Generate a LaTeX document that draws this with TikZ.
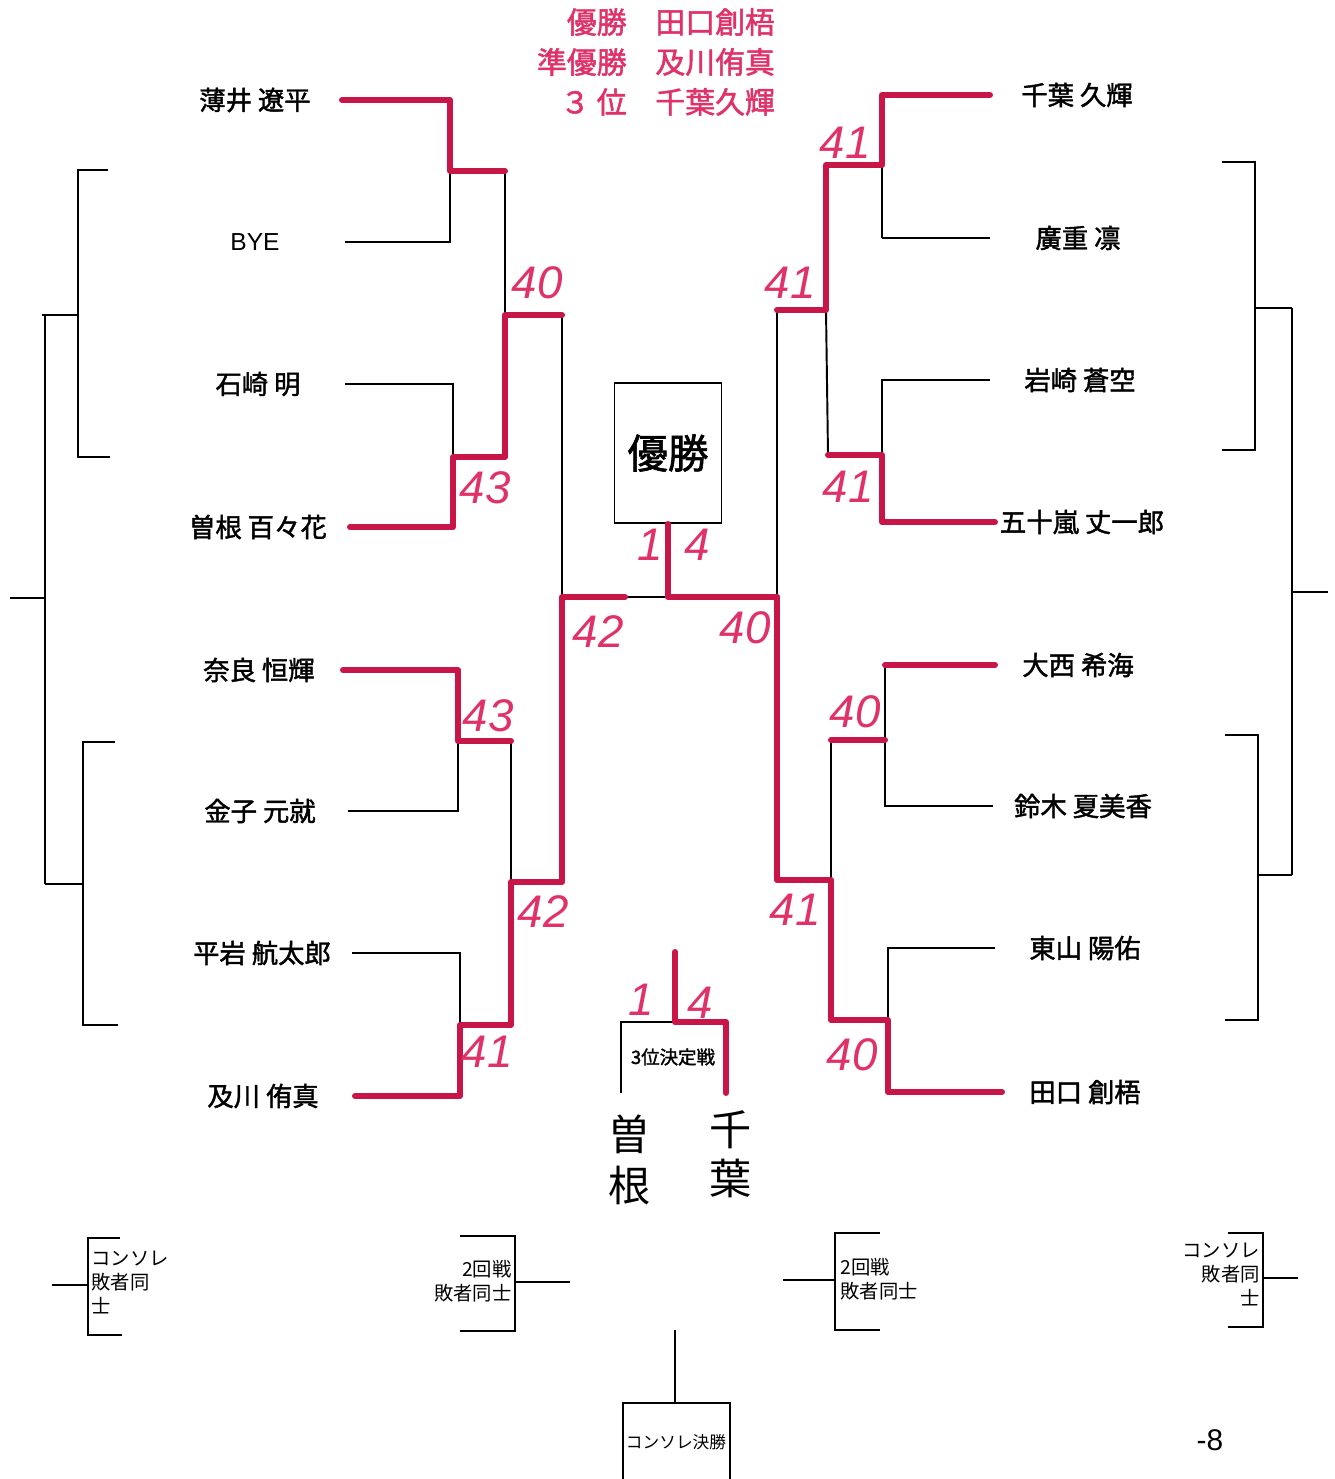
\documentclass[tikz,border=0pt]{standalone}
\usepackage{fontspec}
\newfontfamily\jp{Noto Sans CJK JP}
\newfontfamily\jpb{Noto Sans CJK JP}[FakeBold=1.6]
\newfontfamily\hand{Liberation Sans}
\definecolor{pen}{RGB}{200,22,72}
\definecolor{penink}{RGB}{224,50,104}
\begin{document}
\begin{tikzpicture}[x=0.2mm,y=-0.2mm,
  nm/.style={font=\jpb\fontsize{15}{18}\selectfont, inner sep=0pt},
  win/.style={pen, line width=3.4pt, line cap=round, line join=round},
  lose/.style={black, line width=1.1pt},
  sc/.style={penink, font=\hand\itshape\fontsize{26}{26}\selectfont, inner sep=0pt},
  note/.style={font=\jp\fontsize{11}{13.5}\selectfont, inner sep=0pt},
  ttl/.style={penink, font=\jpb\fontsize{17}{20}\selectfont, inner sep=0pt}]
\fill[white] (0,0) rectangle (1334,1479);
\useasboundingbox (0,0) rectangle (1334,1479);
\node[ttl, anchor=east] (t1a) at (627,22){優勝};
\node[ttl, anchor=west] (t1b) at (655,22){田口創梧};
\node[ttl, anchor=east] (t2a) at (627,62){準優勝};
\node[ttl, anchor=west] (t2b) at (655,62){及川侑真};
\node[ttl, anchor=east] (t3a) at (627,102){３ 位};
\node[ttl, anchor=west] (t3b) at (655,102){千葉久輝};
\node[nm] (pl1) at (255,100){薄井 遼平};
\node[nm, font=\hand\fontsize{14}{16}\selectfont] (pl2) at (255,242){BYE};
\node[nm] (pl3) at (258,384){石崎 明};
\node[nm] (pl4) at (258,527){曽根 百々花};
\node[nm] (pl5) at (259,670){奈良 恒輝};
\node[nm] (pl6) at (260,811){金子 元就};
\node[nm] (pl7) at (262,953){平岩 航太郎};
\node[nm] (pl8) at (263,1096){及川 侑真};
\node[nm] (pr1) at (1077,95){千葉 久輝};
\node[nm] (pr2) at (1078,238){廣重 凛};
\node[nm] (pr3) at (1080,380){岩崎 蒼空};
\node[nm] (pr4) at (1082,522){五十嵐 丈一郎};
\node[nm] (pr5) at (1078,665){大西 希海};
\node[nm] (pr6) at (1083,806){鈴木 夏美香};
\node[nm] (pr7) at (1085,948){東山 陽佑};
\node[nm] (pr8) at (1085,1092){田口 創梧};
\coordinate (a1) at (342,100);
\coordinate (a2) at (345,242);
\coordinate (a3) at (345,384);
\coordinate (a4) at (350,527);
\coordinate (a5) at (343,670);
\coordinate (a6) at (348,811);
\coordinate (a7) at (352,953);
\coordinate (a8) at (355,1096);
\coordinate (b1) at (450,100);
\coordinate (b2) at (450,242);
\coordinate (bm1) at (450,171);
\coordinate (b3) at (453,384);
\coordinate (b4) at (453,527);
\coordinate (bm2) at (453,457);
\coordinate (b5) at (458,670);
\coordinate (b6) at (458,811);
\coordinate (bm3) at (458,741);
\coordinate (b7) at (460,953);
\coordinate (b8) at (460,1096);
\coordinate (bm4) at (460,1025);
\coordinate (c1) at (505,171);
\coordinate (c2) at (505,457);
\coordinate (cm1) at (505,315);
\coordinate (c3) at (511,741);
\coordinate (c4) at (511,1025);
\coordinate (cm2) at (511,882);
\coordinate (d1) at (562,315);
\coordinate (d2) at (562,882);
\coordinate (dm) at (562,597);
\coordinate (dr) at (625,597);
\coordinate (fin) at (668,597);
\coordinate (fr) at (777,597);
\coordinate (e1) at (990,95);
\coordinate (e2) at (990,238);
\coordinate (e3) at (990,380);
\coordinate (e4) at (995,522);
\coordinate (e5) at (995,665);
\coordinate (e6) at (993,806);
\coordinate (e7) at (995,948);
\coordinate (e8) at (1002,1092);
\coordinate (f1) at (882,95);
\coordinate (f2) at (882,238);
\coordinate (fm1) at (882,165);
\coordinate (f3) at (882,380);
\coordinate (f4) at (882,522);
\coordinate (fm2) at (882,455);
\coordinate (f5) at (885,665);
\coordinate (f6) at (885,806);
\coordinate (fm3) at (885,740);
\coordinate (f7) at (888,948);
\coordinate (f8) at (888,1092);
\coordinate (fm4) at (888,1020);
\coordinate (g1) at (826,165);
\coordinate (g2) at (828,455);
\coordinate (gm1) at (826,310);
\coordinate (g3) at (831,740);
\coordinate (g4) at (831,1020);
\coordinate (gm2) at (831,880);
\coordinate (h1) at (777,310);
\coordinate (h2) at (777,880);
\node[draw, line width=1.1pt, minimum width=21.4mm, minimum height=28mm, font=\jpb\fontsize{23}{26}\selectfont] (champ) at (668,453){優勝};
\draw[lose] (bm1) -- (b2) -- (a2);
\draw[lose] (c1) -- (cm1);
\draw[lose] (a3) -- (b3) -- (bm2);
\draw[lose] (d1) -- (dm);
\draw[lose] (a6) -- (b6) -- (bm3);
\draw[lose] (c3) -- (cm2);
\draw[lose] (a7) -- (b7) -- (bm4);
\draw[lose] (dr) -- (fin);
\draw[lose] (f2) -- (e2);
\draw[lose] (f2) -- (fm1);
\draw[lose] (gm1) -- (g2);
\draw[lose] (e3) -- (f3) -- (fm2);
\draw[lose] (h1) -- (fr);
\draw[lose] (f5) -- (fm3);
\draw[lose] (e6) -- (f6) -- (fm3);
\draw[lose] (g3) -- (gm2);
\draw[lose] (e7) -- (f7) -- (fm4);
\draw[win] (a1) -- (b1) -- (bm1) -- (c1);
\draw[win] (d1) -- (cm1) -- (c2) -- (bm2) -- (b4) -- (a4);
\draw[win] (a5) -- (b5) -- (bm3) -- (c3);
\draw[win] (dr) -- (dm) -- (d2) -- (cm2) -- (c4) -- (bm4) -- (b8) -- (a8);
\draw[win] (champ.south) -- (fin) -- (fr);
\draw[win] (e1) -- (f1) -- (fm1) -- (g1) -- (gm1) -- (h1);
\draw[win] (g2) -- (fm2) -- (f4) -- (e4);
\draw[win] (e5) -- (f5);
\draw[win] (fm3) -- (g3);
\draw[win] (fr) -- (h2) -- (gm2) -- (g4) -- (fm4) -- (f8) -- (e8);
\node[sc] (s1) at (537,283){40};
\node[sc] (s2) at (485,488){43};
\node[sc] (s3) at (488,716){43};
\node[sc] (s4) at (543,912){42};
\node[sc] (s5) at (487,1052){41};
\node[sc] (s6) at (598,632){42};
\node[sc] (s7) at (650,545){1};
\node[sc] (s8) at (697,545){4};
\node[sc] (s9) at (845,143){41};
\node[sc] (s10) at (790,283){41};
\node[sc] (s11) at (848,487){41};
\node[sc] (s12) at (745,628){40};
\node[sc] (s13) at (855,712){40};
\node[sc] (s14) at (795,910){41};
\node[sc] (s15) at (852,1055){40};
\draw[lose] (108,170) -- (78,170) -- (78,457) -- (110,457);
\draw[lose] (42,315) -- (78,315);
\draw[lose] (115,742) -- (83,742) -- (83,1025) -- (118,1025);
\draw[lose] (45,884) -- (83,884);
\draw[lose] (45,315) -- (45,884);
\draw[lose] (10,598) -- (45,598);
\draw[lose] (1222,162) -- (1255,162) -- (1255,450) -- (1222,450);
\draw[lose] (1255,308) -- (1292,308);
\draw[lose] (1225,735) -- (1258,735) -- (1258,1020) -- (1225,1020);
\draw[lose] (1258,875) -- (1292,875);
\draw[lose] (1292,308) -- (1292,875);
\draw[lose] (1292,592) -- (1328,592);
\coordinate (q1) at (621,1093);
\coordinate (q2) at (621,1022);
\coordinate (qm) at (675,1022);
\coordinate (q3) at (726,1022);
\coordinate (q4) at (726,1093);
\coordinate (qt) at (675,952);
\node[note, font=\jpb\fontsize{10.5}{12}\selectfont] (third) at (673,1057){3位決定戦};
\draw[lose] (q1) -- (q2) -- (qm);
\draw[win] (qt) -- (qm) -- (q3) -- (q4);
\node[sc] (s16) at (641,1000){1};
\node[sc] (s17) at (700,1003){4};
\node[font=\jp\fontsize{24}{29}\selectfont, align=center, inner sep=0pt] (hs) at (630,1160){曽\\根};
\node[font=\jp\fontsize{24}{28}\selectfont, align=center, inner sep=0pt] (hc) at (731,1154){千\\葉};
\node[note, anchor=north west, align=left] (cl) at (91,1251){コンソレ\\敗者同\\士};
\draw[lose] (120,1238) -- (88,1238) -- (88,1335) -- (122,1335);
\draw[lose] (52,1285) -- (88,1285);
\node[note, anchor=north east, align=right] (rl) at (512,1260){2回戦\\敗者同士};
\draw[lose] (460,1236) -- (515,1236) -- (515,1331) -- (460,1331);
\draw[lose] (515,1282) -- (570,1282);
\node[note, anchor=north west, align=left] (rr) at (840,1258){2回戦\\敗者同士};
\draw[lose] (880,1233) -- (835,1233) -- (835,1330) -- (880,1330);
\draw[lose] (783,1280) -- (835,1280);
\node[note, anchor=north east, align=right] (cr) at (1260,1243){コンソレ\\敗者同\\士};
\draw[lose] (1228,1233) -- (1263,1233) -- (1263,1327) -- (1228,1327);
\draw[lose] (1263,1278) -- (1298,1278);
\node[note, font=\jp\fontsize{9.5}{11}\selectfont] (cf) at (676,1442){コンソレ決勝};
\coordinate (cft) at (675,1330);
\coordinate (cfb) at (675,1403);
\draw[lose] (cft) -- (cfb);
\draw[lose] (623,1479) -- (623,1403) -- (730,1403) -- (730,1479);
\node[font=\hand\fontsize{17}{20}\selectfont, inner sep=0pt] (pg) at (1210,1440){-8};
\end{tikzpicture}
\end{document}
